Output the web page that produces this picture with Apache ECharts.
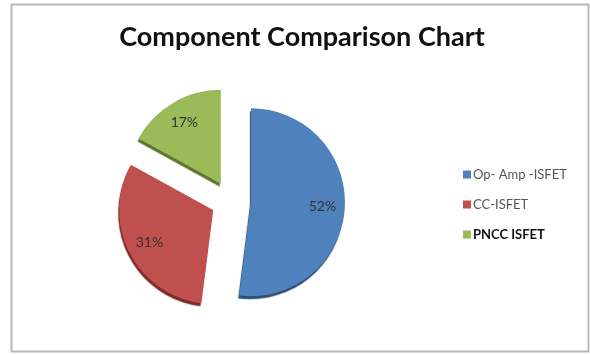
<!DOCTYPE html>
<html>
<head>
<meta charset="utf-8">
<script src="https://cdn.jsdelivr.net/npm/echarts@6/dist/echarts.min.js"></script>
<style>
  html, body { margin: 0; padding: 0; background: #fff; }
  #chart { width: 590px; height: 354px; }
</style>
</head>
<body>
<div id="chart"></div>
<script>
// Share of each ISFET component design
const categories = ['Op- Amp -ISFET', 'CC-ISFET', 'PNCC ISFET'];
const shares = [52, 31, 17];
const sliceColors = ['#4F81BD', '#C0504D', '#9BBB59'];
const rimColors = ['#2c4d74', '#7a2b29', '#5d7330'];

const chart = echarts.init(document.getElementById('chart'));

const center = [231, 201];
const radius = 94;
const burst = 20;

const sliceData = categories.map((name, i) => ({
  name,
  value: shares[i],
  selected: true,
  itemStyle: {
    color: sliceColors[i],
    shadowColor: rimColors[i],
    shadowOffsetY: 3,
    shadowOffsetX: -1,
    shadowBlur: 1
  }
}));

const labelData = categories.map((name, i) => ({
  name,
  value: shares[i],
  selected: true
}));

chart.setOption({
  animation: false,
  title: {
    text: 'Component Comparison Chart',
    left: 297,
    top: 19,
    textAlign: 'center',
    textStyle: {
      fontFamily: 'Lato',
      fontWeight: 'bold',
      fontSize: 27,
      color: '#111'
    }
  },
  graphic: [{
    type: 'rect',
    shape: { x: 11.5, y: 4.5, width: 577, height: 347 },
    style: { fill: 'none', stroke: '#b8b8b8', lineWidth: 2 },
    z: -1
  }],
  legend: {
    orient: 'vertical',
    left: 458,
    top: 163,
    itemWidth: 8,
    itemHeight: 8,
    itemGap: 17,
    icon: 'rect',
    selectedMode: false,
    textStyle: { fontFamily: 'Lato', fontSize: 13, color: '#555', padding: [0, 0, 0, -3] },
    data: [
      { name: categories[0] },
      { name: categories[1] },
      { name: categories[2], textStyle: { fontWeight: 'bold', color: '#111' } }
    ]
  },
  series: [
    {
      type: 'pie',
      center,
      radius: [0, radius],
      startAngle: 90,
      selectedMode: 'multiple',
      selectedOffset: burst,
      label: { show: false },
      labelLine: { show: false },
      emphasis: { disabled: true },
      data: sliceData
    },
    {
      // transparent ring that positions the percentage labels
      type: 'pie',
      center,
      radius: [radius * 0.46, radius],
      startAngle: 90,
      selectedMode: 'multiple',
      selectedOffset: burst,
      silent: true,
      itemStyle: { color: 'rgba(0,0,0,0)' },
      label: {
        show: true,
        position: 'inside',
        formatter: p => p.value + '%',
        fontFamily: 'Lato',
        fontSize: 14,
        color: '#333'
      },
      labelLine: { show: false },
      emphasis: { disabled: true },
      data: labelData
    }
  ]
});
</script>
</body>
</html>
